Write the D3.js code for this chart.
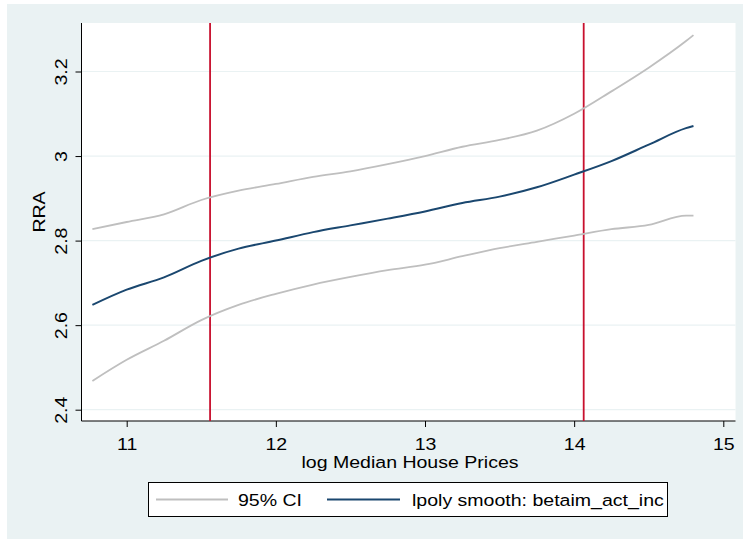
<!DOCTYPE html>
<html>
<head>
<meta charset="utf-8">
<script src="https://d3js.org/d3.v7.min.js"></script>
<style>
  body { margin: 0; background: #fff; }
  svg text { font-family: Arial, "Liberation Sans", sans-serif; fill: #000; }
</style>
</head>
<body>
<svg id="chart" width="743" height="539"></svg>
<script>
// log median house price grid
const xVals = [10.77, 11.0, 11.25, 11.5, 11.75, 12.0, 12.25, 12.5, 12.75, 13.0, 13.25, 13.5, 13.75, 14.0, 14.25, 14.5, 14.75, 14.8];
// lpoly smooth: betaim_act_inc
const fitVals = [2.648, 2.684, 2.713, 2.752, 2.781, 2.800, 2.820, 2.836, 2.852, 2.869, 2.889, 2.904, 2.926, 2.956, 2.988, 3.027, 3.066, 3.071];
// 95% CI bounds
const upperVals = [2.827, 2.844, 2.862, 2.896, 2.918, 2.934, 2.951, 2.964, 2.981, 3.000, 3.022, 3.038, 3.060, 3.100, 3.153, 3.209, 3.272, 3.286];
const lowerVals = [2.468, 2.518, 2.563, 2.612, 2.648, 2.674, 2.696, 2.714, 2.730, 2.743, 2.763, 2.782, 2.797, 2.812, 2.827, 2.837, 2.859, 2.859];
const xTicks = [11, 12, 13, 14, 15];
const yTicks = [2.4, 2.6, 2.8, 3, 3.2];
const refLines = [11.559, 14.064];
const legendLabels = ['95% CI', 'lpoly smooth: betaim_act_inc'];

const svg = d3.select('#chart');
const plot = {left: 81.5, right: 735.5, top: 23, bottom: 421};
const fs = '17px', stretch = 1.15; // text in the original is a bit wider than Arial

// outer background
svg.append('rect').attr('x', 7).attr('y', 4).attr('width', 736).attr('height', 535).attr('fill', '#eaf2f3');
svg.append('rect').attr('x', plot.left).attr('y', plot.top)
  .attr('width', plot.right - plot.left).attr('height', plot.bottom - plot.top).attr('fill', '#fff');

const xs = d3.scaleLinear().domain([11, 15]).range([126.7, 723.3]);
const ys = d3.scaleLinear().domain([2.4, 3.2]).range([409.7, 71.5]);

// grid
svg.append('g').selectAll('line').data(yTicks).enter().append('line')
  .attr('x1', plot.left).attr('x2', plot.right)
  .attr('y1', d => ys(d)).attr('y2', d => ys(d))
  .style('stroke', '#eaf2f3').style('stroke-width', 1.2);

// axes
const yAxis = svg.append('g').attr('transform', `translate(${plot.left},0)`)
  .call(d3.axisLeft(ys).tickValues(yTicks).tickSize(6).tickFormat(d3.format('')));
yAxis.select('.domain').attr('d', `M0,${plot.top}V${plot.bottom}`).style('stroke', '#000');
yAxis.selectAll('.tick line').style('stroke', '#000');
yAxis.selectAll('.tick text').attr('x', null).attr('dy', null)
  .attr('transform', `translate(-15,0) rotate(-90) scale(${stretch},1)`)
  .attr('text-anchor', 'middle').style('font-size', fs);

const xAxis = svg.append('g').attr('transform', `translate(0,${plot.bottom})`)
  .call(d3.axisBottom(xs).tickValues(xTicks).tickSize(6).tickFormat(d3.format('')));
xAxis.select('.domain').attr('d', `M${plot.left},0H${plot.right}`).style('stroke', '#000');
xAxis.selectAll('.tick line').style('stroke', '#000');
xAxis.selectAll('.tick text').attr('y', null).attr('dy', null)
  .attr('transform', `translate(0,28.5) scale(${stretch},1)`).style('font-size', fs);

// reference lines
svg.append('g').selectAll('line').data(refLines).enter().append('line')
  .attr('x1', d => xs(d)).attr('x2', d => xs(d))
  .attr('y1', plot.top).attr('y2', plot.bottom)
  .style('stroke', '#c8102e').style('stroke-width', 1.8);

// curves
const line = vals => d3.line().x((d, i) => xs(xVals[i])).y(d => ys(d)).curve(d3.curveMonotoneX)(vals);
svg.append('path').attr('d', line(upperVals)).attr('fill', 'none').style('stroke', '#bfbfbf').style('stroke-width', 1.8);
svg.append('path').attr('d', line(lowerVals)).attr('fill', 'none').style('stroke', '#bfbfbf').style('stroke-width', 1.8);
svg.append('path').attr('d', line(fitVals)).attr('fill', 'none').style('stroke', '#1a476f').style('stroke-width', 2);

// titles
svg.append('text').attr('transform', `translate(410,468) scale(${stretch},1)`).attr('text-anchor', 'middle')
  .style('font-size', fs).text('log Median House Prices');
svg.append('text').attr('transform', `translate(45,212) rotate(-90) scale(${stretch},1)`).attr('text-anchor', 'middle')
  .style('font-size', fs).text('RRA');

// legend
const lg = svg.append('g');
lg.append('rect').attr('x', 148.5).attr('y', 482.5).attr('width', 519).attr('height', 34)
  .attr('fill', '#fff').style('stroke', '#000').style('stroke-width', 1);
const legendItems = [
  {label: legendLabels[0], color: '#bfbfbf', x1: 156, x2: 228, tx: 238},
  {label: legendLabels[1], color: '#1a476f', x1: 327, x2: 400, tx: 412}
];
legendItems.forEach(it => {
  lg.append('line').attr('x1', it.x1).attr('x2', it.x2).attr('y1', 499.5).attr('y2', 499.5)
    .style('stroke', it.color).style('stroke-width', 2);
  lg.append('text').attr('transform', `translate(${it.tx},506) scale(${stretch},1)`)
    .style('font-size', fs).text(it.label);
});
</script>
</body>
</html>
